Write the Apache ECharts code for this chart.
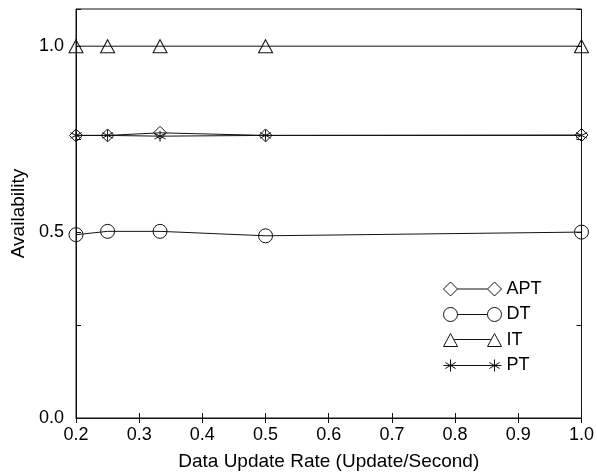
<!DOCTYPE html>
<html>
<head>
<meta charset="utf-8">
<script src="https://cdn.jsdelivr.net/npm/echarts@6/dist/echarts.min.js"></script>
<style>
  html, body { margin: 0; padding: 0; background: #fff; }
  #chart { width: 597px; height: 476px; }
</style>
</head>
<body>
<div id="chart"></div>
<script>
// Data update rates (x) and availability per scheme
var rates = [0.2, 0.25, 0.333, 0.5, 1.0];
var aptValues = [0.76, 0.76, 0.767, 0.76, 0.761];
var dtValues  = [0.493, 0.502, 0.502, 0.49, 0.50];
var itValues  = [1.0, 1.0, 1.0, 1.0, 1.0];
var ptValues  = [0.76, 0.76, 0.758, 0.76, 0.76];
var seriesNames = ['APT', 'DT', 'IT', 'PT'];
var xTicks = [0.2, 0.3, 0.4, 0.5, 0.6, 0.7, 0.8, 0.9, 1.0];
var yLabels = [0.0, 0.5, 1.0];

var FONT = '"Liberation Sans", Arial, sans-serif';
var INK = '#111';

function pairs(xs, ys) {
  return xs.map(function (x, i) { return [x, ys[i]]; });
}

// asterisk marker: three crossing strokes
var starPath = 'path://M10,0 L10,20 M1.34,5 L18.66,15 M1.34,15 L18.66,5';

// legend glyphs: marker — line — marker (58 x 14 box)
var legendIcons = {
  APT: 'path://M0,7 L7,0 L14,7 L7,14 Z M14,7 L44,7 M44,7 L51,0 L58,7 L51,14 Z',
  DT: 'path://M0,7 A7,7 0 1 1 14,7 A7,7 0 1 1 0,7 Z M14,7 L44,7 M44,7 A7,7 0 1 1 58,7 A7,7 0 1 1 44,7 Z',
  IT: 'path://M0,14 L7,1 L14,14 Z M10.8,7 L47.2,7 M44,14 L51,1 L58,14 Z',
  PT: 'path://M7,1 L7,13 M1.8,4 L12.2,10 M1.8,10 L12.2,4 M0,7 L58,7 M51,1 L51,13 M45.8,4 L56.2,10 M45.8,10 L56.2,4'
};

var symbols = { APT: 'diamond', DT: 'circle', IT: 'triangle', PT: starPath };
var sizes = { APT: [13, 13], DT: 14, IT: [14, 13], PT: 11 };
var values = { APT: aptValues, DT: dtValues, IT: itValues, PT: ptValues };

var series = seriesNames.map(function (name) {
  return {
    name: name,
    type: 'line',
    xAxisIndex: 0,
    yAxisIndex: 0,
    data: pairs(rates, values[name]),
    symbol: symbols[name],
    symbolSize: sizes[name],
    showAllSymbol: true,
    lineStyle: { color: INK, width: 1 },
    itemStyle: { color: 'rgba(255,255,255,0)', borderColor: INK, borderWidth: 1 },
    emphasis: { disabled: true },
    animation: false
  };
});

var chart = echarts.init(document.getElementById('chart'), null, { renderer: 'canvas' });

var tickText = { color: '#000', fontFamily: FONT, fontSize: 18 };
var nameText = { color: '#000', fontFamily: FONT, fontSize: 19 };

chart.setOption({
  backgroundColor: '#fff',
  animation: false,
  grid: {
    left: 76, right: 12, top: 9, bottom: 56,
    show: true, borderColor: INK, borderWidth: 1, backgroundColor: 'transparent'
  },
  legend: {
    orient: 'vertical',
    left: 443,
    top: 280,
    padding: 0,
    itemWidth: 58,
    itemHeight: 14,
    itemGap: 7.5,
    selectedMode: false,
    data: seriesNames.map(function (n) { return { name: n, icon: legendIcons[n] }; }),
    itemStyle: { color: 'rgba(255,255,255,0)', borderColor: INK, borderWidth: 1 },
    lineStyle: { width: 0 },
    textStyle: { color: '#000', fontFamily: FONT, fontSize: 18 }
  },
  xAxis: [
    {
      type: 'value', position: 'bottom', min: 0.2, max: 1.0, interval: 0.1,
      name: 'Data Update Rate (Update/Second)',
      nameLocation: 'middle', nameGap: 34,
      nameTextStyle: nameText,
      axisLine: { show: true, onZero: false, lineStyle: { color: INK, width: 1 } },
      axisTick: { show: true, inside: true, length: 5, lineStyle: { color: INK } },
      axisLabel: Object.assign({
        margin: 8,
        formatter: function (v) {
          var hit = xTicks.some(function (t) { return Math.abs(t - v) < 1e-6; });
          return hit ? v.toFixed(1) : '';
        }
      }, tickText),
      splitLine: { show: false }
    },
    {
      type: 'value', position: 'top', min: 0.2, max: 1.0, interval: 0.1,
      axisLine: { show: false },
      axisTick: { show: true, inside: true, length: 5, lineStyle: { color: INK } },
      axisLabel: { show: false },
      splitLine: { show: false }
    }
  ],
  yAxis: [
    {
      type: 'value', position: 'left', min: 0, max: 1.1, interval: 0.25,
      name: 'Availability',
      nameLocation: 'middle', nameGap: 47, nameRotate: 90,
      nameTextStyle: nameText,
      axisLine: { show: true, onZero: false, lineStyle: { color: INK, width: 1 } },
      axisTick: { show: true, inside: true, length: 5, lineStyle: { color: INK } },
      axisLabel: Object.assign({
        margin: 12,
        formatter: function (v) {
          var hit = yLabels.some(function (t) { return Math.abs(t - v) < 1e-6; });
          return hit ? v.toFixed(1) : '';
        }
      }, tickText),
      splitLine: { show: false }
    },
    {
      type: 'value', position: 'right', min: 0, max: 1.1, interval: 0.25,
      axisLine: { show: false },
      axisTick: { show: true, inside: true, length: 5, lineStyle: { color: INK } },
      axisLabel: { show: false },
      splitLine: { show: false }
    }
  ],
  series: series
});
</script>
</body>
</html>
